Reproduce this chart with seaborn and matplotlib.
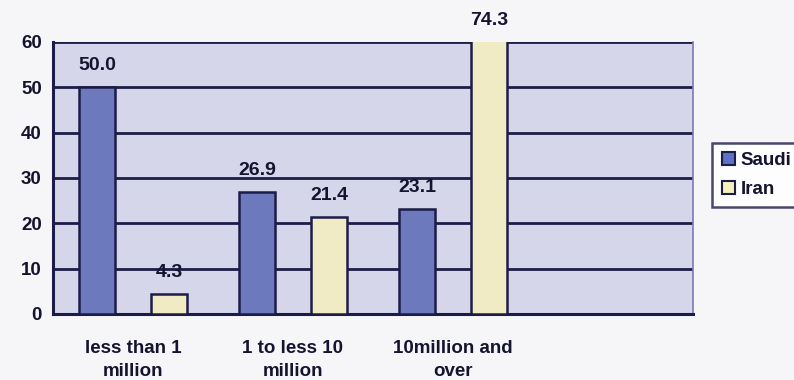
import matplotlib
matplotlib.use("Agg")
import matplotlib.pyplot as plt
import seaborn as sns
import pandas as pd
from matplotlib.patches import Patch

categories = ["less than 1\nmillion", "1 to less 10\nmillion", "10million and\nover"]
saudi = [50.0, 26.9, 23.1]
iran = [4.3, 21.4, 74.3]
series_names = ["Saudi", "Iran"]
y_ticks = [0, 10, 20, 30, 40, 50, 60]

df = pd.DataFrame({
    "category": categories * 2,
    "value": saudi + iran,
    "country": [series_names[0]] * 3 + [series_names[1]] * 3,
})

sns.set_theme(style="white")
plt.rcParams["font.family"] = ["Liberation Sans", "DejaVu Sans"]
plt.rcParams["font.weight"] = "bold"

navy = "#1c1c48"
blue = "#5f70c9"
yellow = "#f7f0bd"
bg = "#d6d6eb"
txt = "#141430"

fig = plt.figure(figsize=(7.94, 3.80), dpi=100)
fig.patch.set_facecolor("#f6f6f8")
ax = fig.add_axes([0.0667, 0.1737, 0.806, 0.716])
ax.set_facecolor(bg)

sns.barplot(data=df, x="category", y="value", hue="country",
            palette=[blue, yellow], width=0.9, gap=0.49,
            edgecolor=navy, linewidth=1.8, ax=ax, legend=False, zorder=3)

ymax = 60
ax.set_ylim(0, ymax)
ax.set_xlim(-0.5, 3.5)
ax.set_yticks(y_ticks)
ax.set_yticklabels([str(t) for t in y_ticks], fontsize=13.5, fontweight="bold", color=txt)
for t in y_ticks[1:]:
    ax.axhline(t, color=navy, lw=2.0, zorder=1)

ax.set_xticks([0, 1, 2, 3])
ax.set_xticklabels(categories + [""], fontsize=13.5, fontweight="bold", color=txt,
                   linespacing=1.4)
ax.set_xticks([-0.5, 0.5, 1.5, 2.5, 3.5], minor=True)
ax.tick_params(axis="x", which="major", length=0, pad=19)
ax.tick_params(axis="x", which="minor", length=5, width=2, color=navy, direction="out")
ax.tick_params(axis="y", length=6, width=2, color=navy, direction="out", pad=2)
ax.set_xlabel("")
ax.set_ylabel("")

for side in ["left", "bottom"]:
    ax.spines[side].set_color(navy)
    ax.spines[side].set_linewidth(2.2)
ax.spines["top"].set_visible(False)
ax.spines["right"].set_color("#7a7ab8")
ax.spines["right"].set_linewidth(1.2)

for p in ax.patches:
    h = p.get_height()
    if h != h:
        continue
    x = p.get_x() + p.get_width() / 2
    ytop = min(h, ymax)
    ax.text(x, ytop + 4.8, f"{h:.1f}", ha="center", va="center",
            fontsize=14, fontweight="bold", color=txt, clip_on=False)

handles = [Patch(facecolor=blue, edgecolor=navy, lw=1.5, label=series_names[0]),
           Patch(facecolor=yellow, edgecolor=navy, lw=1.5, label=series_names[1])]
leg = fig.legend(handles=handles, loc="upper left", bbox_to_anchor=(0.897, 0.624),
                 bbox_transform=fig.transFigure, fontsize=13.5, frameon=True,
                 handlelength=0.7, handleheight=0.7, handletextpad=0.3,
                 borderpad=0.5, labelspacing=0.6, fancybox=False, borderaxespad=0)
leg.get_frame().set_edgecolor(navy)
leg.get_frame().set_linewidth(1.8)
leg.get_frame().set_facecolor("white")
for t in leg.get_texts():
    t.set_fontweight("bold")
    t.set_color(txt)

fig.savefig("out.png", dpi=100, facecolor=fig.get_facecolor())
